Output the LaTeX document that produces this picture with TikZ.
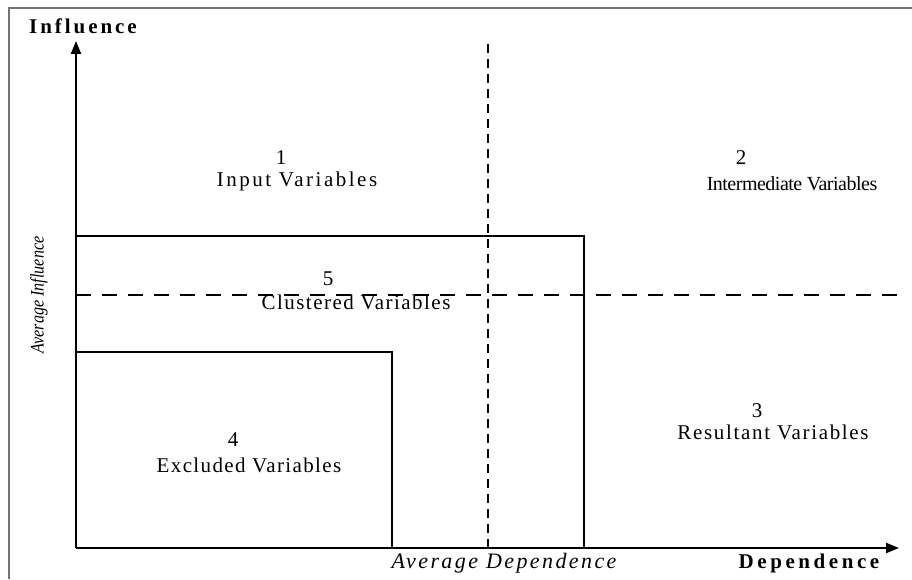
\documentclass[tikz,border=0pt]{standalone}
\usepackage{fontspec}
\setmainfont{Liberation Serif}
\usetikzlibrary{arrows.meta}
\begin{document}
\begin{tikzpicture}[x=1pt,y=1pt,
  frame/.style={draw=black!55,line width=1.2pt},
  axis/.style={line width=2pt,-{Triangle[length=13pt,width=10pt]}},
  boxline/.style={line width=2pt},
  vdash/.style={line width=2pt,dash pattern=on 9pt off 6pt},
  hdash/.style={line width=2pt,dash pattern=on 15pt off 11pt},
  lbl/.style={inner sep=0pt,font=\fontsize{21}{23}\selectfont},
  axlbl/.style={inner sep=0pt,font=\fontsize{21}{23}\selectfont\bfseries},
  itlbl/.style={inner sep=0pt,font=\fontsize{22}{24}\selectfont\itshape}]
\useasboundingbox (0,0) rectangle (912,579);
% frame
\coordinate (fl) at (9,0);
\coordinate (ftl) at (9,571);
\coordinate (ftr) at (912,571);
\draw[frame] (fl) -- (ftl) -- (ftr);
% axes
\coordinate (O) at (76,31);
\coordinate (ytip) at (76,538);
\coordinate (xtip) at (899,31);
\draw[axis] (O) -- (ytip);
\draw[axis] (O) -- (xtip);
% boxes
\coordinate (outerTR) at (584,343);
\coordinate (innerTR) at (392,227);
\draw[boxline] (O |- outerTR) -- (outerTR) -- (outerTR |- O);
\draw[boxline] (O |- innerTR) -- (innerTR) -- (innerTR |- O);
% dashed average lines
\coordinate (vtop) at (488,537);
\coordinate (vbot) at (488,31);
\coordinate (hl) at (76,284);
\coordinate (hr) at (905,284);
\draw[vdash] (vbot) -- (vtop);
\draw[hdash] (hl) -- (hr);
% labels
\node[axlbl] (infl) at (83,553) {\addfontfeature{LetterSpace=14}Influence};
\node[axlbl] (dep) at (809,16) {\addfontfeature{LetterSpace=17}Dependence};
\node[itlbl] (avgdep) at (504,16) {\addfontfeature{LetterSpace=11}Average Dependence};
\node[inner sep=0pt,font=\fontsize{19}{21}\selectfont\itshape,rotate=90] (avginf) at (39,284) {\scalebox{0.85}[1]{Average Influence}};
\node[lbl] (n1) at (281,421) {1};
\node[lbl] (t1) at (297,398) {\addfontfeature{LetterSpace=12}Input Variables};
\node[lbl] (n2) at (741,421) {2};
\node[lbl,font=\fontsize{20}{22}\selectfont] (t2) at (792,395) {\addfontfeature{LetterSpace=-2.5}Intermediate Variables};
\node[lbl] (n5) at (328,300) {5};
\node[lbl] (t5) at (356,277) {\addfontfeature{LetterSpace=7}Clustered Variables};
\node[lbl] (n3) at (757,168) {3};
\node[lbl] (t3) at (773,147) {\addfontfeature{LetterSpace=8}Resultant Variables};
\node[lbl] (n4) at (233,139) {4};
\node[lbl] (t4) at (249,114) {\addfontfeature{LetterSpace=6.5}Excluded Variables};
\end{tikzpicture}
\end{document}
